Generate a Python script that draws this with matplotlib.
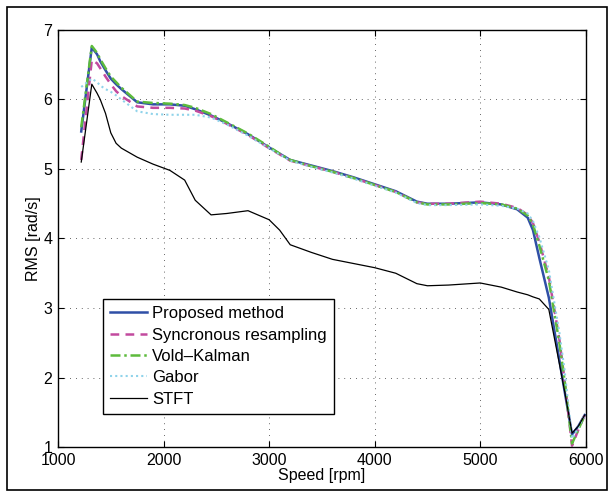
import matplotlib
matplotlib.use("Agg")
import matplotlib.pyplot as plt
from matplotlib.patches import Rectangle

plt.rcParams['font.family'] = ['Liberation Sans', 'DejaVu Sans']
plt.rcParams['font.size'] = 11.5

# Speed points (rpm)
speed = [1220, 1320, 1370, 1400, 1450, 1500, 1550, 1600, 1750, 1900, 2060, 2200,
         2300, 2450, 2600, 2800, 3000, 3100, 3200, 3400, 3600, 3800, 4000, 4200,
         4400, 4500, 4700, 5000, 5200, 5350, 5450, 5500, 5560, 5650, 5750, 5800,
         5870, 5930, 5990]

proposed = [5.54, 6.75, 6.65, 6.55, 6.42, 6.30, 6.22, 6.15, 5.96, 5.93, 5.93, 5.91,
            5.86, 5.77, 5.66, 5.50, 5.31, 5.22, 5.13, 5.05, 4.97, 4.88, 4.78, 4.68,
            4.53, 4.50, 4.50, 4.52, 4.49, 4.42, 4.30, 4.12, 3.72, 3.15, 2.25, 1.80,
            1.18, 1.30, 1.46]
sync_resamp = [5.13, 6.57, 6.52, 6.45, 6.33, 6.22, 6.12, 6.05, 5.90, 5.88, 5.88, 5.87,
               5.84, 5.76, 5.65, 5.49, 5.30, 5.21, 5.12, 5.04, 4.96, 4.87, 4.77, 4.67,
               4.52, 4.50, 4.50, 4.53, 4.50, 4.44, 4.34, 4.22, 3.95, 3.45, 2.55, 1.95,
               1.02, 1.25, 1.46]
vold_kalman = [5.60, 6.77, 6.67, 6.58, 6.45, 6.33, 6.25, 6.17, 5.97, 5.95, 5.94, 5.92,
               5.88, 5.79, 5.67, 5.51, 5.32, 5.22, 5.13, 5.04, 4.96, 4.87, 4.77, 4.67,
               4.52, 4.49, 4.49, 4.51, 4.49, 4.43, 4.33, 4.20, 3.90, 3.40, 2.50, 1.95,
               1.05, 1.25, 1.46]
gabor = [6.18, 6.30, 6.25, 6.20, 6.15, 6.11, 6.06, 6.00, 5.83, 5.79, 5.78, 5.78,
         5.78, 5.74, 5.64, 5.48, 5.30, 5.21, 5.12, 5.03, 4.95, 4.86, 4.76, 4.66,
         4.51, 4.48, 4.48, 4.49, 4.47, 4.43, 4.36, 4.25, 4.02, 3.55, 2.65, 2.10,
         1.12, 1.28, 1.46]
stft = [5.10, 6.22, 6.09, 6.00, 5.80, 5.52, 5.37, 5.30, 5.17, 5.07, 4.98, 4.84,
        4.55, 4.34, 4.36, 4.40, 4.27, 4.12, 3.91, 3.80, 3.70, 3.64, 3.58, 3.50,
        3.35, 3.32, 3.33, 3.36, 3.30, 3.23, 3.19, 3.16, 3.13, 2.98, 2.20, 1.80,
        1.20, 1.30, 1.46]

fig = plt.figure(figsize=(6.14, 4.98), dpi=100)
ax = fig.add_axes([0.0945, 0.1024, 0.8595, 0.8374])

ax.plot(speed, proposed, color='#2f4fa6', lw=1.8, label='Proposed method')
ax.plot(speed, sync_resamp, color='#c24a9e', lw=1.8, ls=(0, (3.5, 2.5)), label='Syncronous resampling')
ax.plot(speed, vold_kalman, color='#5dbb3c', lw=1.8, ls=(0, (4, 1.5, 1, 1.5)), label='Vold\u2013Kalman')
ax.plot(speed, gabor, color='#8fd3ea', lw=1.5, ls=(0, (1, 1.5)), label='Gabor')
ax.plot(speed, stft, color='black', lw=0.9, label='STFT')

ax.set_xlim(1000, 6000)
ax.set_ylim(1, 7)
ax.set_xticks([1000, 2000, 3000, 4000, 5000, 6000])
ax.set_yticks([1, 2, 3, 4, 5, 6, 7])
ax.grid(True, color='#333333', ls=(0, (1, 6)), lw=0.6)
ax.tick_params(direction='in', top=True, right=True, length=4, width=0.8, pad=4)
for s in ax.spines.values():
    s.set_linewidth(1.0)
ax.set_xlabel('Speed [rpm]', labelpad=0)
ax.set_ylabel('RMS [rad/s]', labelpad=2)

leg = ax.legend(loc='lower left', bbox_to_anchor=(0.085, 0.079), borderaxespad=0,
                fancybox=False, framealpha=1, edgecolor='black', handlelength=2.2,
                labelspacing=0.38, borderpad=0.45, handletextpad=0.3, fontsize=12)
leg.get_frame().set_linewidth(1.0)

# outer figure frame
fig.patches.append(Rectangle((7 / 614, 8 / 498), 600 / 614, 483 / 498, transform=fig.transFigure,
                             fill=False, edgecolor='black', lw=1.2))

fig.savefig('out.png', dpi=100)
